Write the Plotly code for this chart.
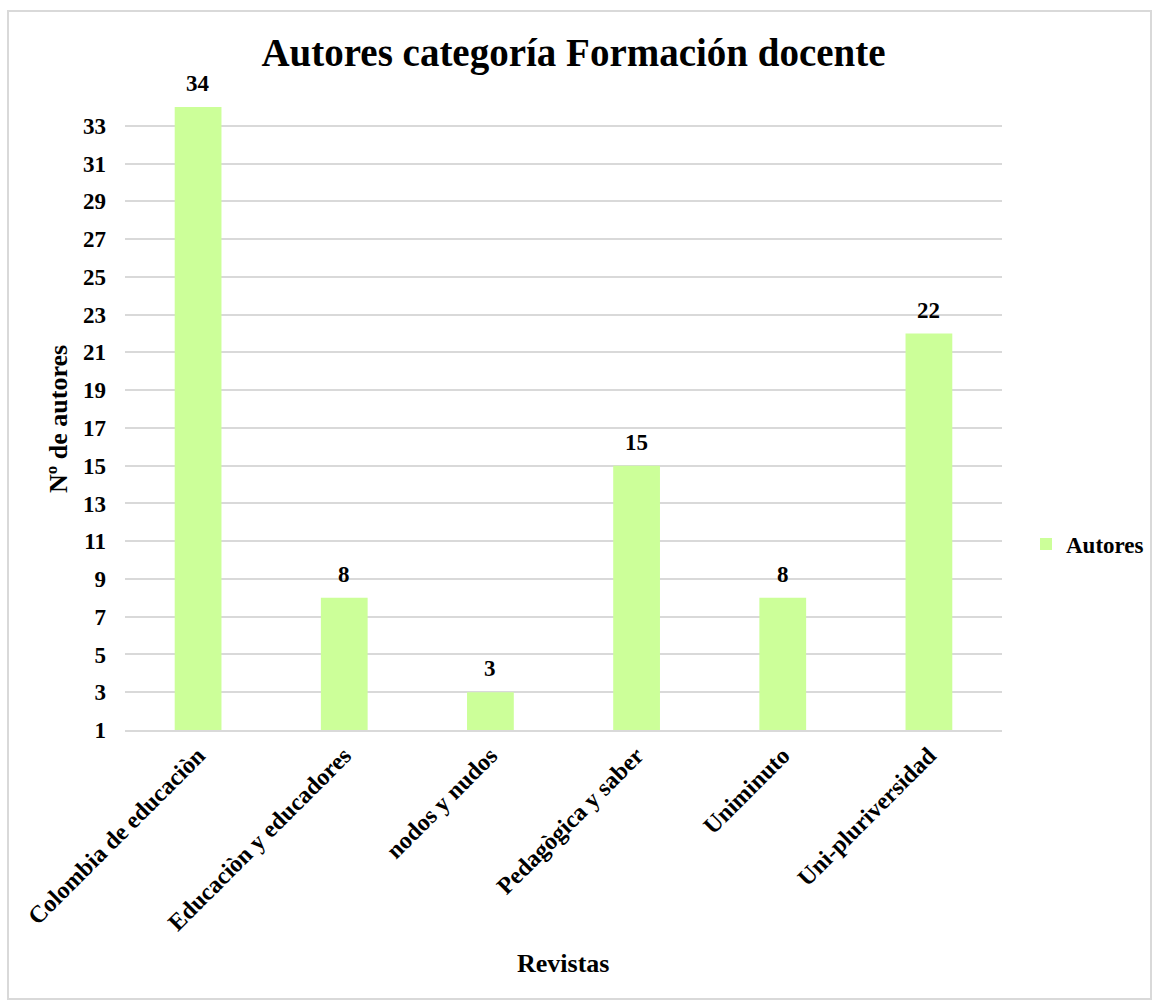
import plotly.graph_objects as go

categories = ["Colombia de educaciòn", "Educaciòn y educadores", "nodos y nudos",
              "Pedagògica y saber", "Uniminuto", "Uni-pluriversidad"]
autores = [34, 8, 3, 15, 8, 22]
y_ticks = list(range(1, 35, 2))

FONT = "Liberation Serif"
BAR_COLOR = "#CCFF99"
GRID = "#D9D9D9"

fig = go.Figure()
fig.add_trace(go.Bar(
    x=categories, y=autores, name="<b>Autores</b>",
    marker=dict(color=BAR_COLOR, line=dict(width=0)),
))

for c, v in zip(categories, autores):
    fig.add_annotation(x=c, y=v, text=f"<b>{v}</b>", showarrow=False,
                       yanchor="bottom", yshift=9,
                       font=dict(family=FONT, size=23, color="black"))

L, R, T, B = 125, 1002, 107, 730
W, H = 1153, 1001


def px_x(p):
    return (p - L) / (R - L)


def px_y(p):
    return (B - p) / (B - T)


# axis titles
fig.add_annotation(xref="paper", yref="paper", x=px_x(563), y=px_y(963),
                   text="<b>Revistas</b>", showarrow=False,
                   xanchor="center", yanchor="middle",
                   font=dict(family=FONT, size=26, color="black"))
fig.add_annotation(xref="paper", yref="paper", x=px_x(58), y=px_y(419),
                   text="<b>Nº de autores</b>", showarrow=False, textangle=-90,
                   xanchor="center", yanchor="middle",
                   font=dict(family=FONT, size=26, color="black"))

fig.update_layout(
    width=W, height=H,
    margin=dict(l=L, r=W - R, t=T, b=H - B, autoexpand=False),
    paper_bgcolor="white", plot_bgcolor="white",
    bargap=0.68,
    title=dict(text="<b>Autores categoría Formación docente</b>",
               x=573.5 / W, xanchor="center", y=1 - 52 / H, yanchor="middle",
               font=dict(family=FONT, size=39, color="black")),
    font=dict(family=FONT, color="black"),
    showlegend=True,
    legend=dict(x=px_x(1026), y=px_y(544), xanchor="left", yanchor="middle",
                font=dict(family=FONT, size=23, color="black"),
                itemwidth=30, bgcolor="rgba(0,0,0,0)"),
    xaxis=dict(
        tickangle=-45, tickfont=dict(family=FONT, size=24, color="black"),
        tickvals=categories, ticktext=[f"<b>{c}</b>" for c in categories],
        showgrid=False, showline=True, linecolor=GRID, linewidth=2,
        ticks="", automargin=False,
    ),
    yaxis=dict(
        range=[1, 34], tickmode="array", tickvals=y_ticks,
        ticktext=[f"<b>{t}</b>" for t in y_ticks],
        tickfont=dict(family=FONT, size=23, color="black"),
        showgrid=True, gridcolor=GRID, gridwidth=2, zeroline=False,
        ticks="", ticklabelstandoff=18, automargin=False,
    ),
)

# chart-area border
fig.add_shape(type="rect", xref="paper", yref="paper",
              x0=px_x(8), x1=px_x(1151),
              y0=px_y(999), y1=px_y(11),
              line=dict(color=GRID, width=2), fillcolor="rgba(0,0,0,0)", layer="below")

fig.write_html("out.html")
